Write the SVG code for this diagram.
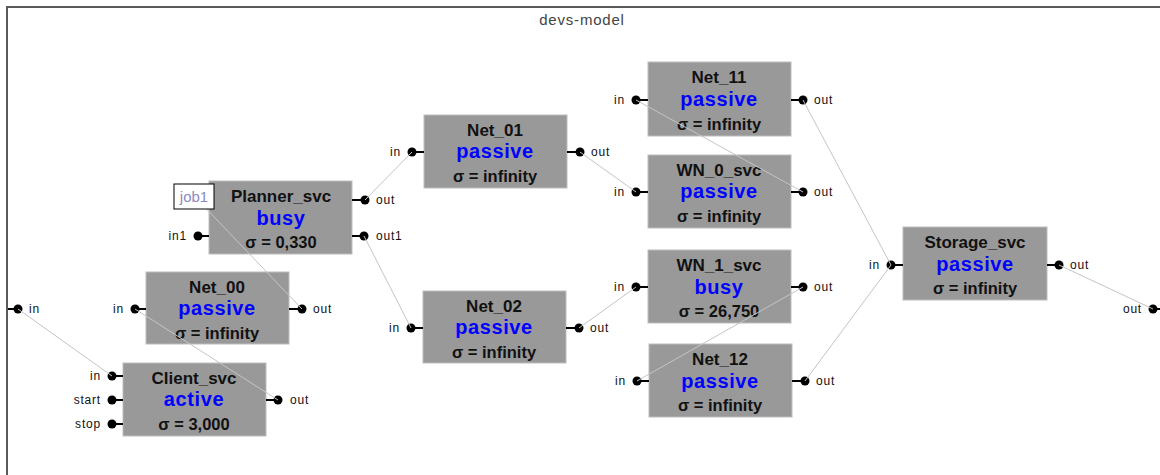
<svg xmlns="http://www.w3.org/2000/svg" width="1160" height="475" viewBox="0 0 1160 475">
<style>
.box{fill:#999999;stroke:#bdbdbd;stroke-width:1}
.nm{font-family:"Liberation Sans",Arial,sans-serif;font-weight:bold;font-size:17px;fill:#111;text-anchor:middle}
.st{font-family:"Liberation Sans",Arial,sans-serif;font-weight:bold;font-size:20px;fill:#0000ff;text-anchor:middle;letter-spacing:0.6px}
.sg{font-family:"Liberation Sans",Arial,sans-serif;font-weight:bold;font-size:16.5px;fill:#111;text-anchor:middle}
.pl{font-family:"Liberation Sans",Arial,sans-serif;font-size:12px;fill:#111;letter-spacing:0.8px}
.pr{font-family:"Liberation Sans",Arial,sans-serif;font-size:12px;fill:#111;letter-spacing:0.8px;text-anchor:end}
.dot{fill:#000}
.stub{stroke:#000;stroke-width:2}
.conn{stroke:#c4c4c4;stroke-width:1;fill:none}
</style>
<rect x="7" y="7" width="1170" height="490" fill="#fff" stroke="#5a5a5a" stroke-width="2"/>
<text x="582" y="25" font-family="'Liberation Sans',Arial,sans-serif" font-size="15px" fill="#444" text-anchor="middle" letter-spacing="0.8">devs-model</text>

<g id="root-ports">
<line class="stub" x1="8" y1="309" x2="18" y2="309"/><circle class="dot" cx="18" cy="309" r="4.5"/><text class="pl" x="29" y="313">in</text>
<line class="stub" x1="1153" y1="309" x2="1162" y2="309"/><circle class="dot" cx="1153" cy="309" r="4.5"/><text class="pr" x="1142" y="313">out</text>
</g>

<g id="planner_svc">
<rect class="box" x="209" y="181" width="143" height="73"/>
<text class="nm" x="281" y="202">Planner_svc</text><text class="st" x="281" y="225">busy</text><text class="sg" x="281" y="248">σ = 0,330</text>
<line class="stub" x1="198" y1="236" x2="209" y2="236"/><circle class="dot" cx="198" cy="236" r="4.5"/><text class="pr" x="187" y="240">in1</text>
<line class="stub" x1="352" y1="200" x2="365" y2="200"/><circle class="dot" cx="365" cy="200" r="4.5"/><text class="pl" x="376" y="204">out</text>
<line class="stub" x1="352" y1="236" x2="364" y2="236"/><circle class="dot" cx="364" cy="236" r="4.5"/><text class="pl" x="376" y="240">out1</text>
</g>

<g id="net_00">
<rect class="box" x="146" y="272" width="143" height="72"/>
<text class="nm" x="217" y="293">Net_00</text><text class="st" x="217" y="315">passive</text><text class="sg" x="217" y="339">σ = infinity</text>
<line class="stub" x1="135" y1="309" x2="146" y2="309"/><circle class="dot" cx="135" cy="309" r="4.5"/><text class="pr" x="124" y="313">in</text>
<line class="stub" x1="289" y1="309" x2="302" y2="309"/><circle class="dot" cx="302" cy="309" r="4.5"/><text class="pl" x="313" y="313">out</text>
</g>

<g id="client_svc">
<rect class="box" x="123" y="363" width="143" height="73"/>
<text class="nm" x="194" y="384">Client_svc</text><text class="st" x="194" y="406">active</text><text class="sg" x="194" y="430">σ = 3,000</text>
<line class="stub" x1="112" y1="376" x2="123" y2="376"/><circle class="dot" cx="112" cy="376" r="4.5"/><text class="pr" x="101" y="380">in</text>
<line class="stub" x1="112" y1="400" x2="123" y2="400"/><circle class="dot" cx="112" cy="400" r="4.5"/><text class="pr" x="101" y="404">start</text>
<line class="stub" x1="112" y1="424" x2="123" y2="424"/><circle class="dot" cx="112" cy="424" r="4.5"/><text class="pr" x="101" y="428">stop</text>
<line class="stub" x1="266" y1="400" x2="278" y2="400"/><circle class="dot" cx="278" cy="400" r="4.5"/><text class="pl" x="290" y="404">out</text>
</g>

<g id="net_01">
<rect class="box" x="424" y="115" width="143" height="73"/>
<text class="nm" x="495" y="136">Net_01</text><text class="st" x="495" y="158">passive</text><text class="sg" x="495" y="182">σ = infinity</text>
<line class="stub" x1="412" y1="152" x2="424" y2="152"/><circle class="dot" cx="412" cy="152" r="4.5"/><text class="pr" x="401" y="156">in</text>
<line class="stub" x1="567" y1="152" x2="580" y2="152"/><circle class="dot" cx="580" cy="152" r="4.5"/><text class="pl" x="591" y="156">out</text>
</g>

<g id="net_02">
<rect class="box" x="423" y="291" width="143" height="72"/>
<text class="nm" x="494" y="312">Net_02</text><text class="st" x="494" y="334">passive</text><text class="sg" x="494" y="358">σ = infinity</text>
<line class="stub" x1="411" y1="328" x2="423" y2="328"/><circle class="dot" cx="411" cy="328" r="4.5"/><text class="pr" x="400" y="332">in</text>
<line class="stub" x1="566" y1="328" x2="579" y2="328"/><circle class="dot" cx="579" cy="328" r="4.5"/><text class="pl" x="590" y="332">out</text>
</g>

<g id="net_11">
<rect class="box" x="648" y="62" width="143" height="74"/>
<text class="nm" x="719" y="83">Net_11</text><text class="st" x="719" y="106">passive</text><text class="sg" x="719" y="130">σ = infinity</text>
<line class="stub" x1="636" y1="100" x2="648" y2="100"/><circle class="dot" cx="636" cy="100" r="4.5"/><text class="pr" x="625" y="104">in</text>
<line class="stub" x1="791" y1="100" x2="803" y2="100"/><circle class="dot" cx="803" cy="100" r="4.5"/><text class="pl" x="814" y="104">out</text>
</g>

<g id="wn_0_svc">
<rect class="box" x="648" y="155" width="143" height="73"/>
<text class="nm" x="719" y="176">WN_0_svc</text><text class="st" x="719" y="198">passive</text><text class="sg" x="719" y="222">σ = infinity</text>
<line class="stub" x1="636" y1="192" x2="648" y2="192"/><circle class="dot" cx="636" cy="192" r="4.5"/><text class="pr" x="625" y="196">in</text>
<line class="stub" x1="791" y1="192" x2="803" y2="192"/><circle class="dot" cx="803" cy="192" r="4.5"/><text class="pl" x="814" y="196">out</text>
</g>

<g id="wn_1_svc">
<rect class="box" x="648" y="250" width="143" height="73"/>
<text class="nm" x="719" y="271">WN_1_svc</text><text class="st" x="719" y="294">busy</text><text class="sg" x="719" y="317">σ = 26,750</text>
<line class="stub" x1="636" y1="287" x2="648" y2="287"/><circle class="dot" cx="636" cy="287" r="4.5"/><text class="pr" x="625" y="291">in</text>
<line class="stub" x1="791" y1="287" x2="803" y2="287"/><circle class="dot" cx="803" cy="287" r="4.5"/><text class="pl" x="814" y="291">out</text>
</g>

<g id="net_12">
<rect class="box" x="649" y="344" width="143" height="73"/>
<text class="nm" x="720" y="365">Net_12</text><text class="st" x="720" y="388">passive</text><text class="sg" x="720" y="411">σ = infinity</text>
<line class="stub" x1="637" y1="381" x2="649" y2="381"/><circle class="dot" cx="637" cy="381" r="4.5"/><text class="pr" x="626" y="385">in</text>
<line class="stub" x1="792" y1="381" x2="805" y2="381"/><circle class="dot" cx="805" cy="381" r="4.5"/><text class="pl" x="816" y="385">out</text>
</g>

<g id="storage_svc">
<rect class="box" x="903" y="227" width="144" height="73"/>
<text class="nm" x="975" y="248">Storage_svc</text><text class="st" x="975" y="271">passive</text><text class="sg" x="975" y="294">σ = infinity</text>
<line class="stub" x1="891" y1="265" x2="903" y2="265"/><circle class="dot" cx="891" cy="265" r="4.5"/><text class="pr" x="880" y="269">in</text>
<line class="stub" x1="1047" y1="265" x2="1059" y2="265"/><circle class="dot" cx="1059" cy="265" r="4.5"/><text class="pl" x="1070" y="269">out</text>
</g>

<g id="connectors">
<line class="conn" x1="18" y1="309" x2="112" y2="376"/>
<line class="conn" x1="278" y1="400" x2="135" y2="309"/>
<line class="conn" x1="302" y1="309" x2="198" y2="200"/>
<line class="conn" x1="365" y1="200" x2="412" y2="152"/>
<line class="conn" x1="364" y1="236" x2="411" y2="328"/>
<line class="conn" x1="580" y1="152" x2="636" y2="192"/>
<line class="conn" x1="636" y1="100" x2="803" y2="192"/>
<line class="conn" x1="579" y1="328" x2="636" y2="287"/>
<line class="conn" x1="803" y1="287" x2="637" y2="381"/>
<line class="conn" x1="803" y1="100" x2="891" y2="265"/>
<line class="conn" x1="805" y1="381" x2="891" y2="265"/>
<line class="conn" x1="1059" y1="265" x2="1153" y2="309"/>
</g>

<g id="job1">
<rect x="174" y="184" width="40" height="25" fill="#fff" stroke="#000" stroke-width="1"/>
<text x="194" y="202" font-family="'Liberation Sans',Arial,sans-serif" font-size="15px" fill="#8a8ac0" text-anchor="middle">job1</text>
</g>
</svg>
